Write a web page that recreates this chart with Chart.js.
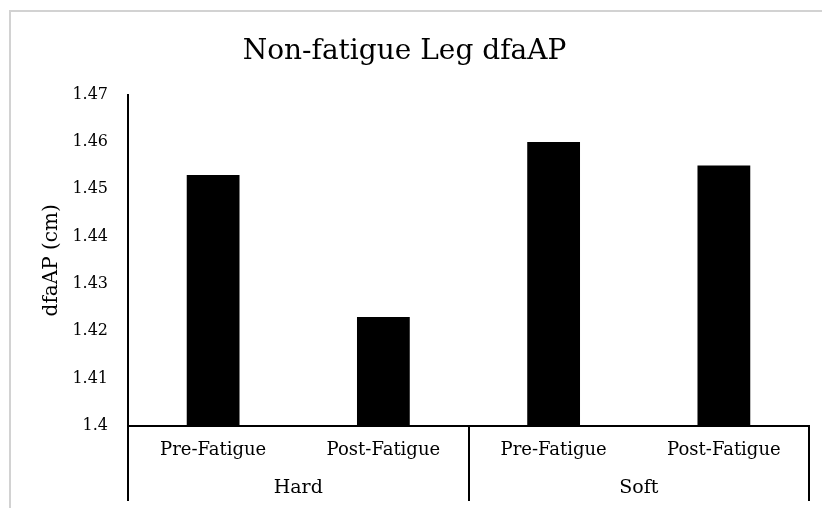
<!DOCTYPE html>
<html>
<head>
<meta charset="utf-8">
<script src="https://cdn.jsdelivr.net/npm/chart.js@4.4.0/dist/chart.umd.min.js"></script>
<style>
  html, body { margin: 0; padding: 0; background: #fff; }
  #wrap { position: relative; width: 822px; height: 508px; overflow: hidden; }
  #frame { position: absolute; left: 9px; top: 10px; width: 900px; height: 600px;
           border-top: 2px solid #d2d2d2; border-left: 2px solid #d2d2d2; }
  #chart { position: absolute; left: 0; top: 0; }
</style>
</head>
<body>
<div id="wrap">
  <div id="frame"></div>
  <canvas id="chart" width="822" height="508"></canvas>
</div>
<script>
// data
const categories = ['Pre-Fatigue', 'Post-Fatigue', 'Pre-Fatigue', 'Post-Fatigue'];
const groups = ['Hard', 'Soft'];
const groupSizes = [2, 2];
const dfaAP = [1.453, 1.423, 1.460, 1.455];

const FONT = "'DejaVu Serif', serif";

// draws the second row of the category axis (Hard / Soft) and its dividers
const groupAxis = {
    id: 'groupAxis',
    afterDraw(chart) {
        const ctx = chart.ctx;
        const x = chart.scales.x;
        const area = chart.chartArea;
        const catW = (x.right - x.left) / categories.length;
        const lineBottom = 501;
        ctx.save();
        ctx.strokeStyle = '#000';
        ctx.lineWidth = 2;
        ctx.fillStyle = '#000';
        ctx.font = '19px ' + FONT;
        ctx.textAlign = 'center';
        ctx.textBaseline = 'middle';
        let start = 0;
        const edges = [x.getPixelForValue(0) - catW / 2];
        for (let g = 0; g < groups.length; g++) {
            const end = start + groupSizes[g] - 1;
            const left = x.getPixelForValue(start) - catW / 2;
            const right = x.getPixelForValue(end) + catW / 2;
            edges.push(right);
            ctx.fillText(groups[g], (left + right) / 2, 488);
            start = end + 1;
        }
        edges.forEach(function (ex) {
            ctx.beginPath();
            ctx.moveTo(Math.round(ex), area.bottom - 1);
            ctx.lineTo(Math.round(ex), lineBottom);
            ctx.stroke();
        });
        ctx.restore();
    }
};

const ctx = document.getElementById('chart');
new Chart(ctx, {
    type: 'bar',
    data: {
        labels: categories,
        datasets: [{
            data: dfaAP,
            backgroundColor: '#000',
            borderWidth: 0,
            barPercentage: 0.31,
            categoryPercentage: 1
        }]
    },
    options: {
        responsive: false,
        animation: false,
        layout: {
            padding: {left: 0, right: 13, top: 0, bottom: 0}
        },
        plugins: {
            legend: {display: false},
            tooltip: {enabled: false},
            title: {
                display: true,
                text: 'Non-fatigue Leg dfaAP',
                color: '#000',
                font: {family: FONT, size: 28, weight: 'normal'},
                padding: {top: 35, bottom: 26}
            }
        },
        scales: {
            x: {
                grid: {display: false, drawTicks: false},
                border: {display: true, color: '#000', width: 2},
                ticks: {
                    color: '#000',
                    font: {family: FONT, size: 18},
                    padding: 14,
                    maxRotation: 0,
                    autoSkip: false
                },
                afterFit: function (scale) {
                    scale.height = 82;
                }
            },
            y: {
                min: 1.4,
                max: 1.47,
                grid: {display: false, drawTicks: false},
                border: {display: true, color: '#000', width: 2},
                ticks: {
                    stepSize: 0.01,
                    color: '#000',
                    padding: 20,
                    font: {family: FONT, size: 16},
                    callback: function (v) {
                        return String(Number(v.toFixed(2)));
                    }
                },
                title: {
                    display: true,
                    text: 'dfaAP (cm)',
                    color: '#000',
                    font: {family: FONT, size: 20},
                    padding: {top: 40, bottom: 0}
                },
                afterFit: function (scale) {
                    scale.width = 128;
                }
            }
        }
    },
    plugins: [groupAxis]
});
</script>
</body>
</html>
